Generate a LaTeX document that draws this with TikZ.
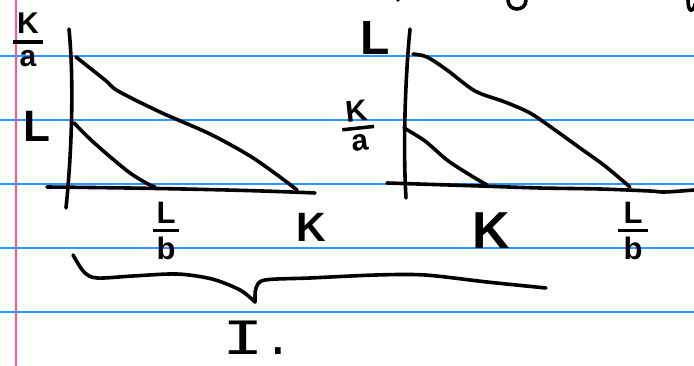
\documentclass[tikz,border=0pt]{standalone}
\usepackage{fontspec}
\usepackage{graphicx}
\setmainfont{Liberation Sans}
\newfontfamily\monohand{DejaVu Sans Mono}
\definecolor{rulingblue}{RGB}{45,150,255}
\definecolor{marginpink}{RGB}{255,80,170}
\newcommand{\handfrac}[4]{\vbox{\offinterlineskip\halign{\hfil##\hfil\cr #1\cr\noalign{\kern#4}\rule{#3}{3.5pt}\cr\noalign{\kern#4}#2\cr}}}
\tikzset{
  ruling/.style={rulingblue, line width=1.6pt},
  margin/.style={marginpink, line width=2.4pt},
  ink/.style={black, line width=3.6pt, line cap=round, line join=round},
  lbl/.style={inner sep=0pt, text=black},
}
\begin{document}
\begin{tikzpicture}[x=1pt,y=-1pt]
\useasboundingbox (0,0) rectangle (694,366);
\fill[white] (0,0) rectangle (694,366);
% ruled paper
\foreach \yy in {56,120,184,248,312} \draw[ruling] (0,\yy) -- (694,\yy);
\draw[margin] (16,0) -- (16,366);

% ---------- left diagram ----------
\coordinate (lvt) at (69,29);
\coordinate (lvb) at (66,208);
\coordinate (lhl) at (47,187);
\coordinate (lhr) at (315,193);
\draw[ink] (lvt) .. controls (74,80) and (72,150) .. (lvb);
\draw[ink] (lhl) .. controls (150,188) and (250,190) .. (lhr);
\coordinate (lbigA) at (76,57);
\coordinate (lbigB) at (297,190);
\draw[ink] plot[smooth, tension=0.5] coordinates {(lbigA) (105,80) (118,91) (160,112) (210,134) (250,156) (280,177) (lbigB)};
\coordinate (lsmA) at (74,123);
\coordinate (lsmB) at (155,187);
\draw[ink] plot[smooth, tension=0.5] coordinates {(lsmA) (90,139) (108,155) (130,173) (148,184) (lsmB)};

\node[lbl, font=\bfseries\fontsize{30}{32}\selectfont] (lKa) at (28,40) {\handfrac{K}{a}{30pt}{7pt}};
\node[lbl, font=\bfseries\fontsize{44}{46}\selectfont, anchor=base] (lL) at (37,142) {L};
\node[lbl, font=\bfseries\fontsize{31}{33}\selectfont] (lLb) at (166,231) {\handfrac{L}{b}{26pt}{5pt}};
\node[lbl, font=\bfseries\fontsize{41}{43}\selectfont, anchor=base] (lK) at (311,242) {K};

% ---------- right diagram ----------
\coordinate (rvt) at (410,29);
\coordinate (rvb) at (406,198);
\coordinate (rhl) at (387,183);
\coordinate (rhr) at (694,190);
\draw[ink] (rvt) .. controls (405,80) and (403,150) .. (rvb);
\draw[ink] plot[smooth, tension=0.5] coordinates {(rhl) (480,186) (540,188) (600,189) (650,191) (665,192) (rhr)};
\coordinate (rbigA) at (413,54);
\coordinate (rbigB) at (630,187);
\draw[ink] plot[smooth, tension=0.5] coordinates {(rbigA) (427,57) (447,70) (475,91) (505,102) (530,113) (555,130) (580,148) (605,166) (rbigB)};
\coordinate (rsmA) at (404,128);
\coordinate (rsmB) at (487,185);
\draw[ink] plot[smooth, tension=0.5] coordinates {(rsmA) (425,141) (447,160) (470,175) (rsmB)};

\node[lbl, font=\bfseries\fontsize{48}{50}\selectfont, anchor=base] (rL) at (375,55) {L};
\node[lbl, font=\bfseries\fontsize{30}{32}\selectfont, rotate=6] (rKa) at (358,126) {\handfrac{K}{a}{32pt}{5pt}};
\node[lbl, font=\bfseries\fontsize{52}{54}\selectfont, anchor=base] (rK) at (491,249) {K};
\node[lbl, font=\bfseries\fontsize{31}{33}\selectfont] (rLb) at (633,231) {\handfrac{L}{b}{30pt}{5pt}};

% ---------- brace ----------
\coordinate (brL) at (73,255);
\coordinate (brTip) at (255,302);
\coordinate (brR) at (546,288);
\draw[ink] plot[smooth, tension=0.5] coordinates {(brL) (84,272) (97,278) (133,276) (177,274) (212,279) (240,290) (brTip)};
\draw[ink] plot[smooth, tension=0.5] coordinates {(brTip) (256,288) (265,280) (310,278) (376,275) (425,275) (487,282) (brR)};
\node[lbl, font=\monohand\fontsize{46}{48}\selectfont, anchor=base west] (roman) at (222.7,355) {\scalebox{1.5}[1]{I}.};

% ---------- cut-off handwriting at the top edge ----------
\fill (398,0) circle (1.8pt);
\draw[ink] (508,0) .. controls (508,12) and (526,12) .. (526,0);
\draw[ink] (688,0) .. controls (688,14) and (694,12) .. (695,4);
\end{tikzpicture}
\end{document}
